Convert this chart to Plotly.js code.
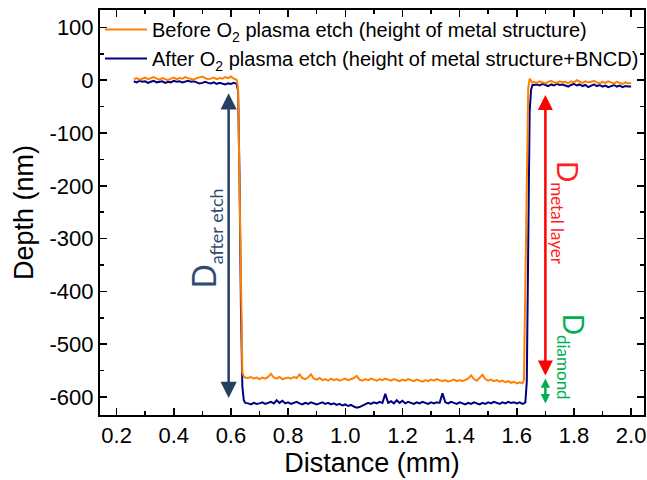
<!DOCTYPE html>
<html>
<head>
<meta charset="utf-8">
<script src="https://cdn.plot.ly/plotly-3.0.1.min.js"></script>
<style>
  html, body { margin: 0; padding: 0; background: #fff; }
  #chart { width: 647px; height: 480px; }
</style>
</head>
<body>
<div id="chart"></div>
<script>
// Step-height profile across the etched trench (distance in mm, depth in nm)
const distance = [
  0.26, 0.27, 0.28, 0.29, 0.30, 0.31, 0.32, 0.33, 0.34, 0.35, 0.36, 0.37, 0.38, 0.39, 0.40, 0.41, 0.42, 0.43, 0.44,
  0.45, 0.46, 0.47, 0.48, 0.49, 0.50, 0.51, 0.52, 0.53, 0.54, 0.55, 0.56, 0.57, 0.58, 0.59, 0.60, 0.61, 0.62,
  0.625, 0.63, 0.635, 0.64, 0.645, 0.65,
  0.66, 0.67, 0.68, 0.69, 0.70, 0.71, 0.72, 0.73, 0.74, 0.75, 0.76, 0.77, 0.78, 0.79, 0.80, 0.81, 0.82, 0.83, 0.84,
  0.85, 0.86, 0.87, 0.88, 0.89, 0.90, 0.91, 0.92, 0.93, 0.94, 0.95, 0.96, 0.97, 0.98, 0.99, 1.00, 1.01, 1.02, 1.03,
  1.04, 1.05, 1.06, 1.07, 1.08, 1.09, 1.10, 1.11, 1.12, 1.13, 1.14, 1.15, 1.16, 1.17, 1.18, 1.19, 1.20, 1.21, 1.22,
  1.23, 1.24, 1.25, 1.26, 1.27, 1.28, 1.29, 1.30, 1.31, 1.32, 1.33, 1.34, 1.35, 1.36, 1.37, 1.38, 1.39, 1.40, 1.41,
  1.42, 1.43, 1.44, 1.45, 1.46, 1.47, 1.48, 1.49, 1.50, 1.51, 1.52, 1.53, 1.54, 1.55, 1.56, 1.57, 1.58, 1.59, 1.60,
  1.61, 1.62,
  1.625, 1.63, 1.635, 1.64, 1.645, 1.65, 1.655,
  1.66, 1.67, 1.68, 1.69, 1.70, 1.71, 1.72, 1.73, 1.74, 1.75, 1.76, 1.77, 1.78, 1.79, 1.80, 1.81, 1.82, 1.83, 1.84,
  1.85, 1.86, 1.87, 1.88, 1.89, 1.90, 1.91, 1.92, 1.93, 1.94, 1.95, 1.96, 1.97, 1.98, 1.99, 2.00
];

// Before O2 plasma etch: height of the metal structure
const depthBefore = [
  2, 4, 1, 3, 5, 2, 4, 6, 3, 1, 4, 2, 0, 3, 5, 2, 4, 3, 6,
  4, 3, 1, 4, 5, 7, 4, 2, 3, 5, 2, 4, 3, 6, 4, 7, 3, 1,
  -15, -200, -450, -553, -561, -563,
  -564, -562, -565, -563, -566, -563, -565, -562, -556, -563, -565, -562, -566, -564, -563, -565, -562, -564, -557,
  -564, -566, -563, -557, -565, -567, -564, -568, -566, -569, -565, -568, -566, -569, -567, -565, -568, -566, -564,
  -560, -567, -569, -566, -568, -565, -567, -569, -566, -568, -565, -567, -569, -566, -568, -570, -567, -569, -566,
  -568, -570, -567, -569, -571, -568, -570, -567, -569, -566, -568, -570, -568, -571, -569, -567, -570, -568, -570,
  -567, -565, -559, -566, -569, -564, -558, -566, -569, -567, -570, -568, -571, -569, -572, -570, -573, -571, -574,
  -572, -574,
  -568, -350, -120, -15, 3, -2, -5,
  -3, -5, -2, -4, -6, -3, -1, -4, -5, -2, -4, -3, -6, -2, -4, 0, -3, -5, -2,
  -4, -3, -1, -4, -6, -3, -5, -2, -4, -6, -3, -5, -7, -4, -6, -5
];

// After O2 plasma etch: height of the metal structure plus BNCD
const depthAfter = [
  -2, -4, -1, -3, -2, -5, -3, -1, -4, -3, -2, -5, -3, -4, -1, -3, -2, -4, -2,
  -1, -3, -2, -4, -6, -5, -3, -5, -6, -4, -7, -5, -6, -8, -6, -7, -5, -7,
  -20, -180, -430, -580, -606, -611,
  -612, -614, -611, -613, -612, -610, -613, -611, -609, -612, -606, -611, -607, -612, -610, -613, -611, -609, -612,
  -614, -611, -613, -610, -612, -614, -612, -610, -613, -611, -614, -612, -615, -613, -616, -614, -617, -615, -618,
  -620, -619, -616, -613, -611, -613, -610, -612, -609, -611, -594, -611, -608, -612, -606, -611, -607, -612, -609,
  -611, -613, -610, -612, -609, -611, -613, -610, -612, -610, -611, -593, -610, -612, -609, -611, -613, -610, -612,
  -614, -611, -613, -610, -612, -614, -611, -613, -610, -612, -609, -611, -613, -610, -612, -609, -611, -610, -612,
  -610, -613,
  -612, -610, -570, -300, -60, -18, -9,
  -9, -8, -10, -7, -9, -11, -8, -10, -7, -9, -8, -10, -12, -9, -7, -10, -8, -11, -9,
  -13, -10, -8, -11, -9, -12, -10, -13, -11, -9, -12, -10, -13, -11, -12, -12
];

const xTickVals = [0.2, 0.4, 0.6, 0.8, 1.0, 1.2, 1.4, 1.6, 1.8, 2.0];
const xTickText = ['0.2', '0.4', '0.6', '0.8', '1.0', '1.2', '1.4', '1.6', '1.8', '2.0'];
const yTickVals = [100, 0, -100, -200, -300, -400, -500, -600];
const yTickText = ['100', '0', '-100', '-200', '-300', '-400', '-500', '-600'];

// Levels spanned by the depth markers (nm) and where they sit (mm)
const afterEtchSpan = [-22, -602];
const metalLayerSpan = [-25, -559];
const diamondSpan = [-562, -612];
const leftMarkerX = 0.592;
const rightMarkerX = 1.70;

const traces = [
  {
    x: distance, y: depthAfter, type: 'scatter', mode: 'lines',
    name: 'After O<sub>2</sub> plasma etch (height of metal structure+BNCD)',
    line: { color: '#000080', width: 2 }
  },
  {
    x: distance, y: depthBefore, type: 'scatter', mode: 'lines',
    name: 'Before O<sub>2</sub> plasma etch (height of metal structure)',
    line: { color: '#ff8000', width: 2 }
  }
];

const axisFont = { family: 'Liberation Sans, Arial, sans-serif', size: 22, color: '#000' };
const titleFont = { family: 'Liberation Sans, Arial, sans-serif', size: 27, color: '#000' };
const noteFont = 'Lato, Open Sans, sans-serif';

function doubleArrow(x, span, color, size) {
  return {
    x: x, y: span[1], ax: x, ay: span[0],
    xref: 'x', yref: 'y', axref: 'x', ayref: 'y',
    text: '', showarrow: true, arrowside: 'end+start',
    arrowhead: 2, startarrowhead: 2, arrowsize: size, startarrowsize: size,
    arrowwidth: 2.5, arrowcolor: color, standoff: 0, startstandoff: 0
  };
}

const layout = {
  width: 647, height: 480,
  margin: { l: 100, r: 3, t: 10, b: 65 },
  paper_bgcolor: '#fff', plot_bgcolor: '#fff',
  showlegend: true,
  legend: {
    x: 0, y: 1, xanchor: 'left', yanchor: 'top',
    traceorder: 'reversed', bgcolor: 'rgba(0,0,0,0)', borderwidth: 0,
    font: { family: 'Liberation Sans, Arial, sans-serif', size: 20, color: '#000' },
    itemwidth: 42
  },
  xaxis: {
    range: [0.142, 2.045],
    tickmode: 'array', tickvals: xTickVals, ticktext: xTickText,
    ticks: 'inside', ticklen: 7, tickwidth: 1.5, tickcolor: '#000',
    minor: { tickmode: 'linear', tick0: 0, dtick: 0.1, ticks: 'inside', ticklen: 4, tickwidth: 1.5, tickcolor: '#000' },
    showline: true, linewidth: 2, linecolor: '#000', mirror: 'ticks',
    showgrid: false, zeroline: false,
    tickfont: axisFont,
    title: { text: 'Distance (mm)', font: titleFont, standoff: 4 }
  },
  yaxis: {
    range: [-634, 133],
    tickmode: 'array', tickvals: yTickVals, ticktext: yTickText,
    ticks: 'inside', ticklen: 7, tickwidth: 1.5, tickcolor: '#000',
    minor: { tickmode: 'linear', tick0: 0, dtick: 50, ticks: 'inside', ticklen: 4, tickwidth: 1.5, tickcolor: '#000' },
    showline: true, linewidth: 2, linecolor: '#000', mirror: 'ticks',
    showgrid: false, zeroline: false,
    tickfont: axisFont,
    title: { text: 'Depth (nm)', font: titleFont, standoff: 8 }
  },
  annotations: [
    doubleArrow(leftMarkerX, afterEtchSpan, '#243f60', 1.3),
    doubleArrow(rightMarkerX, metalLayerSpan, '#ff0000', 1.2),
    doubleArrow(rightMarkerX, diamondSpan, '#00b050', 0.75),
    {
      x: 0.511, y: -299, xref: 'x', yref: 'y', showarrow: false, textangle: -90,
      text: 'D<sub><span style="font-size:18px">after etch</span></sub>',
      font: { family: noteFont, size: 32, color: '#2e4d70' }
    },
    {
      x: 1.77, y: -252, xref: 'x', yref: 'y', showarrow: false, textangle: 90,
      text: 'D<sub><span style="font-size:17px">metal layer</span></sub>',
      font: { family: noteFont, size: 28, color: '#ff2020' }
    },
    {
      x: 1.794, y: -524, xref: 'x', yref: 'y', showarrow: false, textangle: 90,
      text: 'D<sub><span style="font-size:17px">diamond</span></sub>',
      font: { family: noteFont, size: 28, color: '#00b050' }
    }
  ]
};

Plotly.newPlot('chart', traces, layout, { displayModeBar: false, staticPlot: true });
</script>
</body>
</html>
